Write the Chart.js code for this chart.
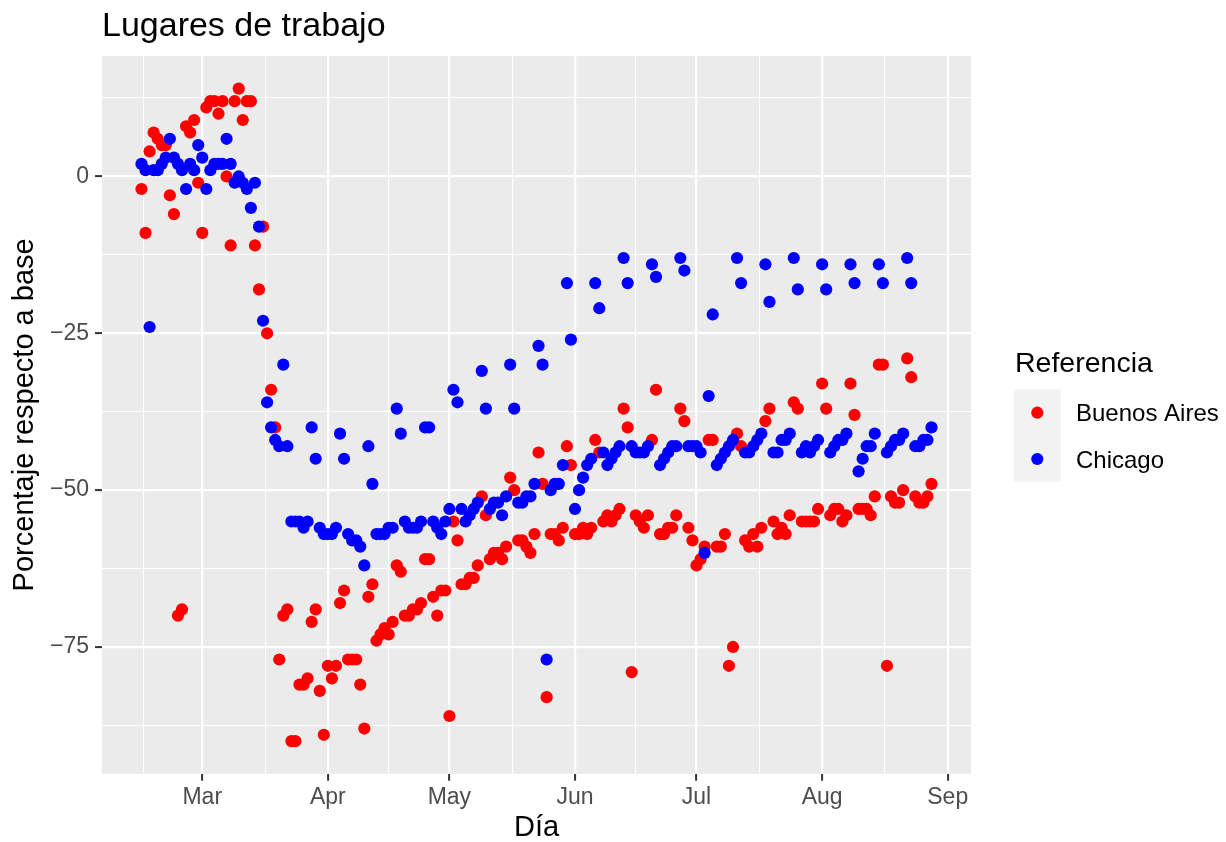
<!DOCTYPE html>
<html lang="es">
<head>
  <meta charset="UTF-8">
  <title>Lugares de trabajo</title>
  <script src="https://cdn.jsdelivr.net/npm/chart.js"></script>
  <style>
    html, body { margin: 0; padding: 0; background: #ffffff; }
    #wrap { width: 1226px; height: 842px; }
  </style>
</head>
<body>
  <div id="wrap"><canvas id="grafico" width="1226" height="842"></canvas></div>

  <script>
    // día 0 = 1 de marzo de 2020; la serie empieza el 15 de febrero
    const diaInicio = -15;

    const buenosAires = [
      -2, -9, 4, 7, 6, 5, 5, -3, -6, -70, -69, 8, 7, 9,
      -1, -9, 11, 12, 12, 10, 12, 0, -11, 12, 14, 9, 12, 12,
      -11, -18, -8, -25, -34, -40, -77, -70, -69, -90, -90, -81, -81, -80,
      -71, -69, -82, -89, -78, -80, -78, -68, -66, -77, -77, -77, -81, -88,
      -67, -65, -74, -73, -72, -73, -71, -62, -63, -70, -70, -69, -69, -68,
      -61, -61, -67, -70, -66, -66, -86, -55, -58, -65, -65, -64, -64, -62,
      -51, -54, -61, -60, -60, -61, -59, -48, -50, -58, -58, -59, -60, -57,
      -44, -49, -83, -57, -57, -58, -56, -43, -46, -57, -57, -56, -57, -56,
      -42, -44, -55, -54, -55, -54, -53, -37, -40, -79, -54, -55, -56, -54,
      -42, -34, -57, -57, -56, -56, -54, -37, -39, -56, -58, -62, -61, -59,
      -42, -42, -59, -59, -57, -78, -75, -41, -43, -58, -59, -57, -59, -56,
      -39, -37, -55, -57, -56, -57, -54, -36, -37, -55, -55, -55, -55, -53,
      -33, -37, -54, -53, -53, -55, -54, -33, -38, -53, -53, -53, -54, -51,
      -30, -30, -78, -51, -52, -52, -50, -29, -32, -51, -52, -52, -51, -49
    ];

    const chicago = [
      2, 1, -24, 1, 1, 2, 3, 6, 3, 2, 1, -2, 2, 1,
      5, 3, -2, 1, 2, 2, 2, 6, 2, -1, 0, -1, -2, -5,
      -1, -8, -23, -36, -40, -42, -43, -30, -43, -55, -55, -55, -56, -55,
      -40, -45, -56, -57, -57, -57, -56, -41, -45, -57, -58, -58, -59, -62,
      -43, -49, -57, -57, -57, -56, -56, -37, -41, -55, -56, -56, -56, -55,
      -40, -40, -55, -56, -57, -55, -53, -34, -36, -53, -55, -54, -53, -52,
      -31, -37, -53, -52, -52, -54, -51, -30, -37, -52, -52, -51, -51, -49,
      -27, -30, -77, -50, -49, -49, -46, -17, -26, -53, -50, -48, -46, -45,
      -17, -21, -44, -46, -45, -44, -43, -13, -17, -43, -44, -44, -44, -43,
      -14, -16, -46, -45, -44, -43, -43, -13, -15, -43, -43, -43, -44, -60,
      -35, -22, -46, -45, -44, -43, -42, -13, -17, -44, -44, -43, -42, -41,
      -14, -20, -44, -44, -42, -42, -41, -13, -18, -44, -43, -44, -43, -42,
      -14, -18, -44, -43, -42, -42, -41, -14, -17, -47, -45, -43, -43, -41,
      -14, -17, -44, -43, -42, -42, -41, -13, -17, -43, -43, -42, -42, -40
    ];

    const meses = ["Mar", "Apr", "May", "Jun", "Jul", "Aug", "Sep"];
    const inicioMes = [0, 31, 61, 92, 122, 153, 184];
    const menoresX = [-14.5, 15.5, 46, 76.5, 107, 137.5, 168.5];
    const marcasY = [0, -25, -50, -75];
    const menoresY = [12.5, -12.5, -37.5, -62.5, -87.5];

    const fuente = "'Liberation Sans', Arial, sans-serif";
    const puntos = serie => serie.map((v, i) => ({ x: diaInicio + i, y: v }));

    const esMayorX = v => inicioMes.includes(v);
    const esMayorY = v => marcasY.includes(v);

    // fondo gris del panel, como theme_gray de ggplot
    const fondoPanel = {
      id: "fondoPanel",
      beforeDraw(chart) {
        const { ctx, chartArea: a } = chart;
        ctx.save();
        ctx.fillStyle = "#EBEBEB";
        ctx.fillRect(a.left, a.top, a.right - a.left, a.bottom - a.top);
        ctx.restore();
      }
    };

    // leyenda a la derecha con su título
    const leyenda = {
      id: "leyenda",
      afterDraw(chart) {
        const c = chart.ctx;
        c.save();
        c.textAlign = "left";
        c.textBaseline = "alphabetic";
        c.fillStyle = "#000000";
        c.font = "28.5px " + fuente;
        c.fillText("Referencia", 1015, 371.7);
        c.fillStyle = "#F2F2F2";
        c.fillRect(1014, 389.3, 46.7, 92.4);
        chart.data.datasets.forEach((ds, k) => {
          const y = 412.7 + k * 46.3;
          c.fillStyle = ds.backgroundColor;
          c.beginPath();
          c.arc(1037.3, y, 6.1, 0, Math.PI * 2);
          c.fill();
          c.fillStyle = "#000000";
          c.font = "24px " + fuente;
          c.fillText(ds.label, 1076, y + 8.6);
        });
        c.restore();
      }
    };

    new Chart(document.getElementById("grafico"), {
      type: "scatter",
      data: {
        datasets: [
          {
            label: "Buenos Aires",
            data: puntos(buenosAires),
            backgroundColor: "#FF0000",
            borderWidth: 0,
            pointRadius: 6.1,
            order: 1
          },
          {
            label: "Chicago",
            data: puntos(chicago),
            backgroundColor: "#0000FF",
            borderWidth: 0,
            pointRadius: 6.1,
            order: 0
          }
        ]
      },
      options: {
        responsive: false,
        animation: false,
        devicePixelRatio: 1,
        layout: { padding: { left: 0, right: 255, top: 0, bottom: 0 } },
        plugins: {
          legend: { display: false },
          tooltip: { enabled: false },
          title: {
            display: true,
            text: "Lugares de trabajo",
            align: "start",
            fullSize: false,
            color: "#000000",
            font: { family: fuente, size: 34, weight: "normal", lineHeight: 1.2 },
            padding: { top: 6, bottom: 9.2 }
          }
        },
        scales: {
          x: {
            type: "linear",
            min: -24.75,
            max: 189.75,
            afterBuildTicks: s => {
              s.ticks = inicioMes.concat(menoresX).sort((a, b) => a - b).map(v => ({ value: v }));
            },
            afterFit: s => { s.height = 68.3; },
            ticks: {
              autoSkip: false,
              maxRotation: 0,
              padding: 5,
              color: "#4D4D4D",
              font: { family: fuente, size: 23, lineHeight: 1 },
              callback: v => {
                const k = inicioMes.indexOf(v);
                return k >= 0 ? meses[k] : "";
              }
            },
            grid: {
              color: "#FFFFFF",
              lineWidth: c => (c.tick && esMayorX(c.tick.value) ? 2.2 : 1.1),
              tickColor: c => (c.tick && esMayorX(c.tick.value) ? "#333333" : "rgba(0,0,0,0)"),
              tickLength: 7,
              tickWidth: 2
            },
            border: { display: false },
            title: {
              display: true,
              text: "Día",
              color: "#000000",
              font: { family: fuente, size: 29, lineHeight: 1 },
              padding: { top: 0, bottom: 0 }
            }
          },
          y: {
            type: "linear",
            min: -95.2,
            max: 19.2,
            afterBuildTicks: s => {
              s.ticks = marcasY.concat(menoresY).sort((a, b) => a - b).map(v => ({ value: v }));
            },
            afterFit: s => { s.width = 102; },
            ticks: {
              autoSkip: false,
              padding: 6,
              color: "#4D4D4D",
              font: { family: fuente, size: 23, lineHeight: 1 },
              callback: v => {
                if (!esMayorY(v)) return "";
                return v === 0 ? "0" : "\u2212" + Math.abs(v);
              }
            },
            grid: {
              color: "#FFFFFF",
              lineWidth: c => (c.tick && esMayorY(c.tick.value) ? 2.2 : 1.1),
              tickColor: c => (c.tick && esMayorY(c.tick.value) ? "#333333" : "rgba(0,0,0,0)"),
              tickLength: 7,
              tickWidth: 2
            },
            border: { display: false },
            title: {
              display: true,
              text: "Porcentaje respecto a base",
              color: "#000000",
              font: { family: fuente, size: 29, lineHeight: 1 },
              padding: { top: 10, bottom: 0 }
            }
          }
        }
      },
      plugins: [fondoPanel, leyenda]
    });
  </script>
</body>
</html>
